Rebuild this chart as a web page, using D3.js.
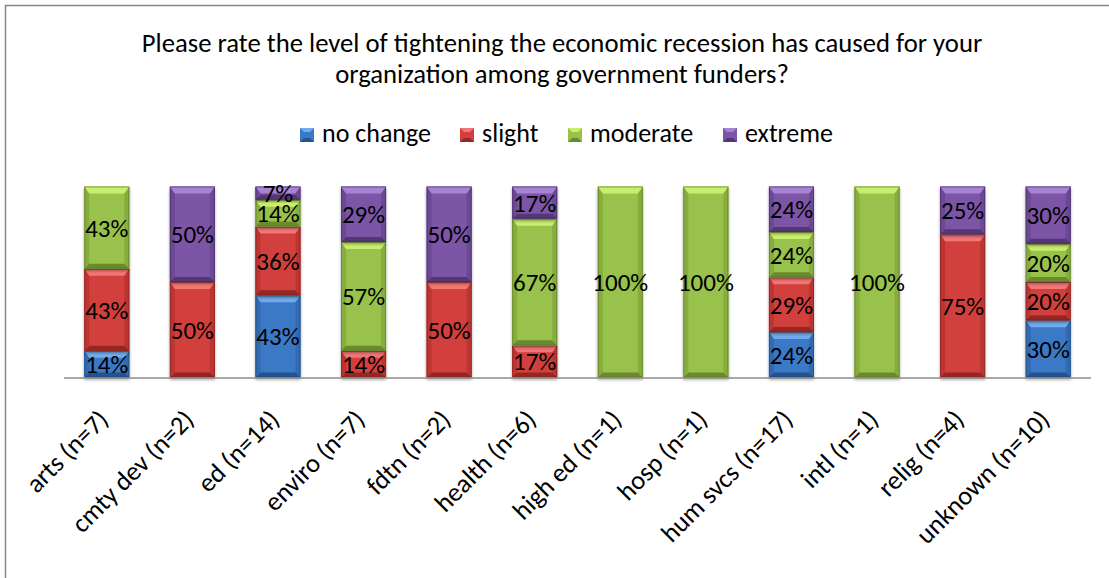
<!DOCTYPE html>
<html><head><meta charset="utf-8">
<script src="https://cdn.jsdelivr.net/npm/d3@7"></script>
<style>
html,body{margin:0;padding:0;background:#fff;}
svg{display:block;font-family:Carlito, Lato, "Open Sans", sans-serif;}
</style></head>
<body><svg id="chart" width="1109" height="578"></svg>
<script>
const categories = ["arts (n=7)","cmty dev (n=2)","ed (n=14)","enviro (n=7)","fdtn (n=2)","health (n=6)","high ed (n=1)","hosp (n=1)","hum svcs (n=17)","intl (n=1)","relig (n=4)","unknown (n=10)"];
const seriesNames = ["no change","slight","moderate","extreme"];
const noChange = [14,0,43,0,0,0,0,0,24,0,0,30];
const slight   = [43,50,36,14,50,17,0,0,29,0,75,20];
const moderate = [43,0,14,57,0,67,100,100,24,100,0,20];
const extreme  = [0,50,7,29,50,17,0,0,24,0,25,30];
const titleLines = ["Please rate the level of tightening the economic recession has caused for your","organization among government funders?"];

const colors = {
  "no change":{base:"#3B79C7", top:"#72ABEC", bot:"#24538F", side:"#3169B0", edge:"#1F4778"},
  "slight":{base:"#D1403C", top:"#F27676", bot:"#962824", side:"#BC3532", edge:"#7E2220"},
  "moderate":{base:"#98C24B", top:"#C8EE6D", bot:"#6A8A2E", side:"#86AD3E", edge:"#5B7628"},
  "extreme":{base:"#7B55A7", top:"#A883D4", bot:"#533774", side:"#6C4894", edge:"#452D61"}
};

const seriesVals = [noChange, slight, moderate, extreme];
const rows = categories.map((c,i)=>{
  const r = {cat:c};
  seriesNames.forEach((s,j)=>r[s]=seriesVals[j][i]);
  return r;
});

const svg = d3.select("#chart");

function fitSize(sample, target){
  const t = svg.append("text").attr("font-size",20).text(sample);
  const w = t.node().getComputedTextLength();
  t.remove();
  return 20*target/w;
}
const titleSize = fitSize(titleLines[0], 841);
const legendSize = fitSize("no change", 109);
const labelSize = fitSize("100%", 56);
const axisSize = fitSize("unknown (n=10)", 176);

svg.append("rect").attr("x",5.5).attr("y",5.5).attr("width",1120).attr("height",600)
  .attr("fill","none").attr("stroke","#868686").attr("stroke-width",1.5);

svg.append("g").selectAll("text").data(titleLines).join("text")
  .attr("x",562).attr("y",(d,i)=>52+i*30.5)
  .attr("text-anchor","middle").attr("font-size",titleSize).attr("fill","#000")
  .text(d=>d);

const x = d3.scaleBand().domain(categories).range([64,1091]).paddingInner(0.474).paddingOuter(0.237);
const y = d3.scaleLinear().domain([0,1]).range([377.5,186.5]);

const stack = d3.stack().keys(seriesNames).offset(d3.stackOffsetExpand);
const layers = stack(rows);
const poly = pts=>pts.map(p=>p.join(",")).join(" ");

// soft shadow under bars
const defs = svg.append("defs");
const f = defs.append("filter").attr("id","sh").attr("x","-20%").attr("y","-20%").attr("width","140%").attr("height","140%");
f.append("feGaussianBlur").attr("in","SourceAlpha").attr("stdDeviation",1.5).attr("result","b");
f.append("feOffset").attr("in","b").attr("dx",0).attr("dy",2).attr("result","o");
f.append("feComponentTransfer").attr("in","o").attr("result","oa").append("feFuncA").attr("type","linear").attr("slope",0.35);
const fm = f.append("feMerge"); fm.append("feMergeNode").attr("in","oa"); fm.append("feMergeNode").attr("in","SourceGraphic");

const gBars = svg.append("g");
layers.forEach(layer=>{
  const key = layer.key, col = colors[key];
  layer.forEach(d=>{
    const v = d.data[key];
    if(!v) return;
    const x0 = x(d.data.cat), w = x.bandwidth();
    const y0 = y(d[1]), y1 = y(d[0]), h = y1-y0;
    const bt = Math.min(7, h/2), bb = Math.min(5, h/2), bs = 5;
    const g = gBars.append("g").attr("filter","url(#sh)");
    g.append("rect").attr("x",x0).attr("y",y0).attr("width",w).attr("height",h).attr("fill",col.base);
    g.append("polygon").attr("points",poly([[x0,y0],[x0,y1],[x0+bs,y1-bb],[x0+bs,y0+bt]])).attr("fill",col.side);
    g.append("polygon").attr("points",poly([[x0+w,y0],[x0+w,y1],[x0+w-bs,y1-bb],[x0+w-bs,y0+bt]])).attr("fill",col.side);
    g.append("polygon").attr("points",poly([[x0,y0],[x0+w,y0],[x0+w-bs,y0+bt],[x0+bs,y0+bt]])).attr("fill",col.top);
    g.append("polygon").attr("points",poly([[x0,y1],[x0+w,y1],[x0+w-bs,y1-bb],[x0+bs,y1-bb]])).attr("fill",col.bot);
    g.append("rect").attr("x",x0+0.5).attr("y",y0+0.5).attr("width",w-1).attr("height",h-1)
      .attr("fill","none").attr("stroke",col.edge).attr("stroke-width",1).attr("stroke-opacity",0.6);
  });
});

svg.append("line").attr("x1",64).attr("x2",1091).attr("y1",378).attr("y2",378)
  .attr("stroke","#8C8C8C").attr("stroke-width",1.5);

const gLab = svg.append("g");
layers.forEach(layer=>{
  const key = layer.key;
  layer.forEach(d=>{
    const v = d.data[key];
    if(!v) return;
    gLab.append("text")
      .attr("x",x(d.data.cat)+x.bandwidth()/2)
      .attr("y",(y(d[0])+y(d[1]))/2)
      .attr("dy","0.36em").attr("text-anchor","middle")
      .attr("font-size",labelSize).attr("fill","#000")
      .text(v+"%");
  });
});

const gx = svg.append("g");
categories.forEach(c=>{
  const cx = x(c)+x.bandwidth()/2 + 3;
  gx.append("text").attr("transform",`translate(${cx},421) rotate(-45)`)
    .attr("text-anchor","end").attr("font-size",axisSize).attr("fill","#000").text(c);
});

const legendItems = [
  {k:"no change", x:300},
  {k:"slight", x:460},
  {k:"moderate", x:568},
  {k:"extreme", x:723}
];
const gl = svg.append("g");
legendItems.forEach(it=>{
  const col = colors[it.k], s=14, x0=it.x, y0=128, b=4;
  gl.append("rect").attr("x",x0).attr("y",y0).attr("width",s).attr("height",s).attr("fill",col.base);
  gl.append("polygon").attr("points",poly([[x0,y0],[x0+s,y0],[x0+s-b,y0+b],[x0+b,y0+b]])).attr("fill",col.top);
  gl.append("polygon").attr("points",poly([[x0,y0+s],[x0+s,y0+s],[x0+s-b,y0+s-b],[x0+b,y0+s-b]])).attr("fill",col.bot);
  gl.append("text").attr("x",x0+s+8).attr("y",141.5).attr("font-size",legendSize).attr("fill","#000").text(it.k);
});
</script></body></html>
